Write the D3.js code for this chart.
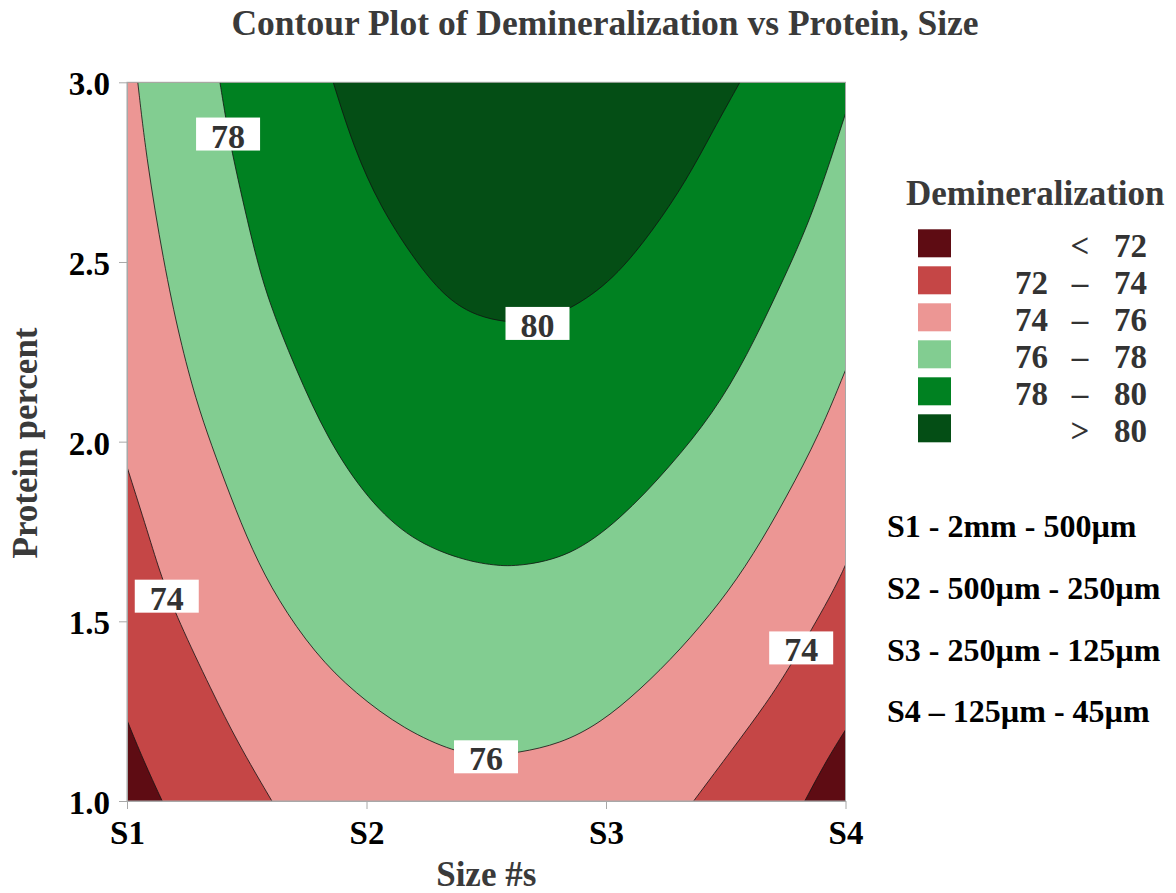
<!DOCTYPE html>
<html><head><meta charset="utf-8">
<script src="https://cdn.jsdelivr.net/npm/d3@7"></script>
<style>
body{margin:0;background:#fff;}
svg{display:block;font-family:"Liberation Serif","Times New Roman",serif;}
</style>
</head><body>
<svg id="chart" width="1176" height="893"></svg>
<script>
// ---------------- data ----------------
const sizeTicks = [1, 2, 3, 4];
const sizeTickLabels = ["S1", "S2", "S3", "S4"];
const proteinTicks = [1.0, 1.5, 2.0, 2.5, 3.0];
const levels = [72, 74, 76, 78, 80];
const bandColors = ["#5e0c13", "#c54646", "#ec9694", "#82cd91", "#008121", "#044e15"];
const bandLow = ["", "72", "74", "76", "78", ""];
const bandSymbol = ["<", "–", "–", "–", "–", ">"];
const bandHigh = ["72", "74", "76", "78", "80", "80"];

// contour lines: [size, protein]
const contour72 = [
  [[1.0, 1.225], [1.068, 1.114], [1.147, 1.0]],
  [[3.83, 1.0], [3.921, 1.114], [4.0, 1.198]]
];
const contour74 = [
  [[1.0, 1.93], [1.088, 1.745], [1.143, 1.624], [1.213, 1.504], [1.352, 1.309], [1.463, 1.161], [1.605, 1.0]],
  [[3.366, 1.0], [3.532, 1.148], [3.671, 1.273], [3.768, 1.373], [3.949, 1.582], [4.0, 1.657]]
];
const contour76 = [
  [[1.045, 3.0], [1.082, 2.784], [1.152, 2.501], [1.221, 2.283], [1.288, 2.116], [1.352, 1.991],
   [1.43, 1.851], [1.522, 1.698], [1.63, 1.559], [1.784, 1.411], [1.951, 1.3], [2.16, 1.198],
   [2.368, 1.136], [2.499, 1.125], [2.634, 1.134], [2.808, 1.159], [2.975, 1.216], [3.142, 1.309],
   [3.309, 1.42], [3.476, 1.551], [3.615, 1.684], [3.754, 1.846], [3.893, 2.023], [4.0, 2.199]]
];
const contour78 = [
  [[1.388, 3.0], [1.409, 2.913], [1.437, 2.807], [1.527, 2.542], [1.589, 2.394], [1.7, 2.208],
   [1.839, 2.004], [2.006, 1.838], [2.187, 1.726], [2.396, 1.671], [2.535, 1.655], [2.64, 1.653],
   [2.85, 1.68], [3.058, 1.782], [3.267, 1.93], [3.448, 2.079], [3.587, 2.236], [3.727, 2.431],
   [3.866, 2.635], [4.0, 2.913]]
];
const contour80 = [
  [[1.861, 3.0], [1.945, 2.821], [2.056, 2.654], [2.21, 2.496], [2.34, 2.394], [2.466, 2.348],
   [2.577, 2.334], [2.683, 2.327], [2.85, 2.366], [3.031, 2.45], [3.198, 2.589], [3.337, 2.728],
   [3.448, 2.867], [3.559, 3.0]]
];
const contours = [contour72, contour74, contour76, contour78, contour80];

const labelText = ["78", "80", "74", "76", "74"];
const labelSize = [1.422, 2.714, 1.166, 2.499, 3.815];
const labelProtein = [2.856, 2.329, 1.57, 1.123, 1.426];

const sizeNotes = ["S1 - 2mm - 500µm", "S2 - 500µm - 250µm", "S3 - 250µm - 125µm", "S4 – 125µm - 45µm"];

// ---------------- drawing ----------------
const svg = d3.select("#chart");
const x = d3.scaleLinear().domain([1, 4]).range([127, 845.5]);
const y = d3.scaleLinear().domain([1, 3]).range([801, 82.3]);
const [x0, x1] = x.domain(), [y0, y1] = y.domain();
const W = x1 - x0, H = y1 - y0;

svg.append("defs").append("clipPath").attr("id", "plotclip")
  .append("rect").attr("x", x(x0)).attr("y", y(y1))
  .attr("width", x(x1) - x(x0)).attr("height", y(y0) - y(y1));

const line = d3.line().x(d => x(d[0])).y(d => y(d[1])).curve(d3.curveBasis);

// perimeter position (counter-clockwise, starting at bottom-right corner)
function perim(p) {
  const [a, b] = p, e = 1e-6;
  if (Math.abs(a - x1) < e) return b - y0;
  if (Math.abs(b - y1) < e) return H + (x1 - a);
  if (Math.abs(a - x0) < e) return H + W + (y1 - b);
  return 2 * H + W + (a - x0);
}
const cornerList = [[H, [x1, y1]], [H + W, [x0, y1]], [2 * H + W, [x0, y0]], [2 * H + 2 * W, [x1, y0]]];

function regionPath(pieces) {
  let d = "";
  pieces.forEach((p, i) => { const s = line(p); d += i === 0 ? s : "L" + s.slice(1); });
  const last = pieces[pieces.length - 1], first = pieces[0];
  const tE = perim(last[last.length - 1]);
  let tS = perim(first[0]);
  const P = 2 * H + 2 * W;
  if (tS < tE) tS += P;
  for (let k = 0; k < 2; k++) {
    cornerList.forEach(([t, c]) => {
      const tt = t + k * P;
      if (tt > tE && tt < tS) d += "L" + x(c[0]) + "," + y(c[1]);
    });
  }
  return d + "Z";
}

const plot = svg.append("g").attr("clip-path", "url(#plotclip)");
plot.append("rect").attr("x", x(x0)).attr("y", y(y1))
  .attr("width", x(x1) - x(x0)).attr("height", y(y0) - y(y1)).attr("fill", bandColors[0]);
contours.forEach((pieces, i) => {
  plot.append("path").attr("d", regionPath(pieces)).attr("fill", bandColors[i + 1]).attr("stroke", "none");
});
contours.forEach(pieces => {
  pieces.forEach(p => {
    plot.append("path").attr("d", line(p)).attr("fill", "none").attr("stroke", "#111").attr("stroke-width", 0.8);
  });
});

// frame
svg.append("rect").attr("x", x(x0)).attr("y", y(y1))
  .attr("width", x(x1) - x(x0)).attr("height", y(y0) - y(y1))
  .attr("fill", "none").attr("stroke", "#a8a8a8").attr("stroke-width", 1);

// contour labels
labelText.forEach((t, i) => {
  const g = svg.append("g").attr("transform", `translate(${x(labelSize[i])},${y(labelProtein[i])})`);
  g.append("rect").attr("x", -32).attr("y", -16.5).attr("width", 64).attr("height", 33).attr("fill", "#fff");
  g.append("text").attr("text-anchor", "middle").attr("y", 13.5)
    .attr("font-size", 34).attr("font-weight", "bold").attr("fill", "#333").text(t);
});

// axes
const xAxis = d3.axisBottom(x).tickValues(sizeTicks).tickFormat((d, i) => sizeTickLabels[i])
  .tickSizeInner(8).tickSizeOuter(0).tickPadding(12);
const yAxis = d3.axisLeft(y).tickValues(proteinTicks).tickFormat(d3.format(".1f"))
  .tickSizeInner(8).tickSizeOuter(0).tickPadding(9);
const gx = svg.append("g").attr("transform", `translate(0,${y(y0)})`).call(xAxis);
const gy = svg.append("g").attr("transform", `translate(${x(x0)},0)`).call(yAxis);
[gx, gy].forEach(g => {
  g.select(".domain").attr("stroke", "#a8a8a8");
  g.selectAll(".tick line").attr("stroke", "#a8a8a8");
  g.selectAll(".tick text").attr("font-family", "Liberation Serif, Times New Roman, serif")
    .attr("font-size", 33).attr("font-weight", "bold").attr("fill", "#000");
});
gy.selectAll(".tick text").attr("dy", "0.38em");

// titles
svg.append("text").attr("x", 605).attr("y", 35).attr("text-anchor", "middle")
  .attr("font-size", 35.5).attr("font-weight", "bold").attr("fill", "#3a3a3a")
  .text("Contour Plot of Demineralization vs Protein, Size");
svg.append("text").attr("x", (x(x0) + x(x1)) / 2).attr("y", 886).attr("text-anchor", "middle")
  .attr("font-size", 35).attr("font-weight", "bold").attr("fill", "#3a3a3a").text("Size #s");
svg.append("text").attr("transform", "translate(37,443) rotate(-90)").attr("text-anchor", "middle")
  .attr("font-size", 35).attr("font-weight", "bold").attr("fill", "#3a3a3a").text("Protein percent");

// legend
const leg = svg.append("g");
leg.append("text").attr("x", 906).attr("y", 205).attr("font-size", 35).attr("font-weight", "bold")
  .attr("fill", "#3a3a3a").text("Demineralization");
bandColors.forEach((c, i) => {
  const top = 229.3 + i * 37;
  leg.append("rect").attr("x", 918).attr("y", top).attr("width", 33).attr("height", 28).attr("fill", c);
  const base = top + 27.4;
  leg.append("text").attr("x", 1048).attr("y", base).attr("text-anchor", "end")
    .attr("font-size", 33).attr("font-weight", "bold").attr("fill", "#333").text(bandLow[i]);
  leg.append("text").attr("x", 1080).attr("y", base).attr("text-anchor", "middle")
    .attr("font-size", 33).attr("font-weight", "bold").attr("fill", "#333").text(bandSymbol[i]);
  leg.append("text").attr("x", 1147).attr("y", base).attr("text-anchor", "end")
    .attr("font-size", 33).attr("font-weight", "bold").attr("fill", "#333").text(bandHigh[i]);
});

// size notes
const noteBase = [537, 599, 661, 722];
sizeNotes.forEach((t, i) => {
  svg.append("text").attr("x", 887).attr("y", noteBase[i]).attr("font-size", 32)
    .attr("font-weight", "bold").attr("fill", "#000").text(t);
});
</script>
</body></html>
